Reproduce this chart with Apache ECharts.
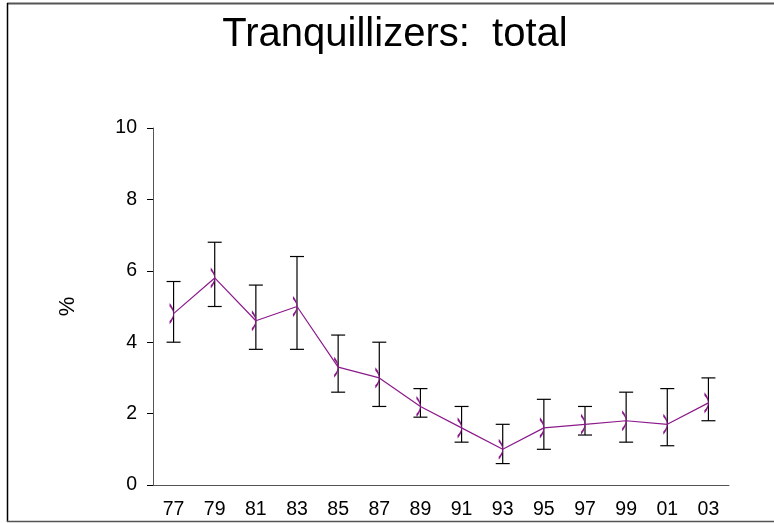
<!DOCTYPE html>
<html><head><meta charset="utf-8">
<script src="https://cdn.jsdelivr.net/npm/echarts@6/dist/echarts.min.js"></script>
<style>html,body{margin:0;padding:0;background:#fff}#c{width:774px;height:523px}</style>
</head><body><div id="c"></div>
<script>
const years = ['77','79','81','83','85','87','89','91','93','95','97','99','01','03'];
const values = [4.8, 5.8, 4.6, 5.0, 3.3, 3.0, 2.2, 1.6, 1.0, 1.6, 1.7, 1.8, 1.7, 2.3];
const lows   = [4.0, 5.0, 3.8, 3.8, 2.6, 2.2, 1.9, 1.2, 0.6, 1.0, 1.4, 1.2, 1.1, 1.8];
const highs  = [5.7, 6.8, 5.6, 6.4, 4.2, 4.0, 2.7, 2.2, 1.7, 2.4, 2.2, 2.6, 2.7, 3.0];
const yTicks = [0, 2, 4, 6, 8, 10];

const errData = years.map((y, i) => [i, lows[i], highs[i]]);
const chart = echarts.init(document.getElementById('c'), null, {renderer: 'canvas'});
const font = 'Liberation Sans, Arial, sans-serif';
chart.setOption({
  animation: false,
  backgroundColor: '#fff',
  title: {text: 'Tranquillizers:  total', left: 390, top: 10, textAlign: 'center',
    textStyle: {fontFamily: font, fontWeight: 'normal', fontSize: 40, color: '#000'}},
  grid: {left: 153, right: 45, top: 128, bottom: 38},
  xAxis: {type: 'category', data: years, boundaryGap: true,
    axisLine: {lineStyle: {color: '#555', width: 1}},
    axisTick: {alignWithLabel: true, length: 6, lineStyle: {color: '#000'}},
    axisLabel: {fontFamily: font, fontSize: 19.5, color: '#000', margin: 15}},
  yAxis: {type: 'value', min: yTicks[0], max: yTicks[yTicks.length-1], interval: 2,
    name: '%', nameLocation: 'middle', nameRotate: 90, nameGap: 74,
    nameTextStyle: {fontFamily: font, fontSize: 22, color: '#000'},
    axisLine: {show: true, lineStyle: {color: '#555', width: 1}},
    axisTick: {show: true, length: 6, lineStyle: {color: '#000'}},
    splitLine: {show: false},
    axisLabel: {fontFamily: font, fontSize: 19.5, color: '#000', margin: 16}},
  series: [
    {type: 'custom', data: errData, z: 2,
      renderItem: function(params, api) {
        const x = api.value(0);
        const lo = api.coord([x, api.value(1)]);
        const hi = api.coord([x, api.value(2)]);
        const w = 7;
        const st = {stroke: '#000', lineWidth: 1.2};
        return {type: 'group', children: [
          {type: 'line', shape: {x1: lo[0], y1: lo[1], x2: hi[0], y2: hi[1]}, style: st},
          {type: 'line', shape: {x1: lo[0]-w, y1: lo[1], x2: lo[0]+w, y2: lo[1]}, style: st},
          {type: 'line', shape: {x1: hi[0]-w, y1: hi[1], x2: hi[0]+w, y2: hi[1]}, style: st}
        ]};
      }},
    {type: 'line', data: values, z: 3,
      lineStyle: {color: '#8B1A8B', width: 1.2},
      symbol: 'path://M0,0 Q8,10 0,20', symbolSize: [4, 18], symbolOffset: [-2, 0],
      itemStyle: {color: 'none', borderColor: '#8B1A8B', borderWidth: 1.5}}
  ],
  graphic: [
    {type: 'line', shape: {x1: 7, y1: 3.5, x2: 774, y2: 3.5}, style: {stroke: '#555', lineWidth: 2}},
    {type: 'line', shape: {x1: 7.5, y1: 3, x2: 7.5, y2: 522}, style: {stroke: '#000', lineWidth: 1.5}},
    {type: 'line', shape: {x1: 7, y1: 521.5, x2: 774, y2: 521.5}, style: {stroke: '#555', lineWidth: 1.5}}
  ]
});
</script></body></html>
